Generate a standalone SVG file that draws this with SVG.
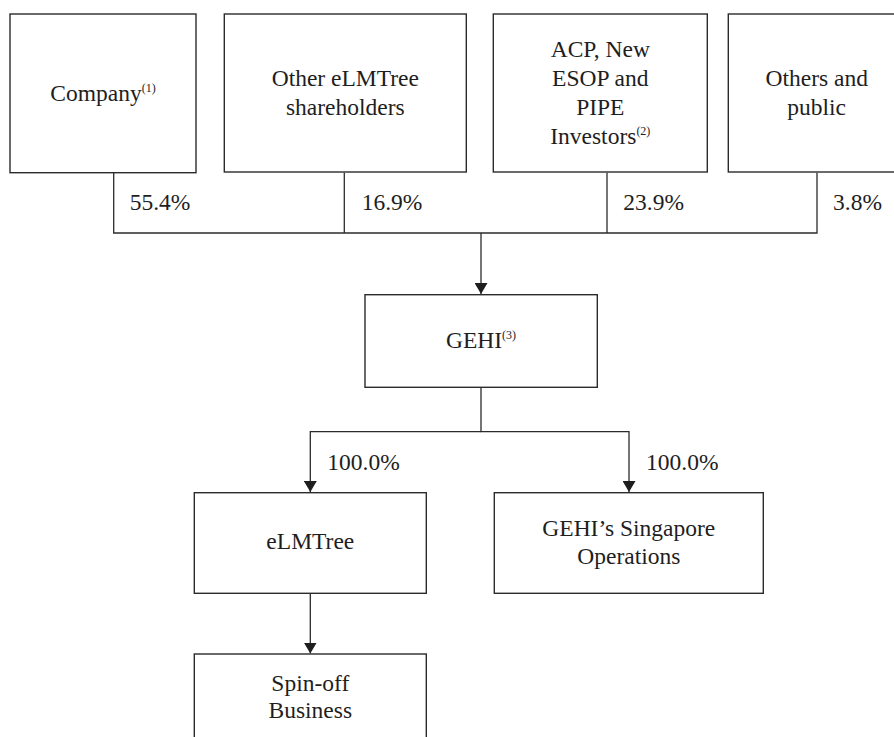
<svg xmlns="http://www.w3.org/2000/svg" width="894" height="737" viewBox="0 0 894 737">
<style>
.box{fill:#fff;stroke:#2b2b2b;stroke-width:1.4}
text{font-family:'Liberation Serif','Times New Roman',Tinos,'DejaVu Serif',serif;font-size:23.5px;fill:#1e1e1e}
.t{text-anchor:middle}
.sup{font-size:12px}
.ln{fill:none;stroke:#2b2b2b;stroke-width:1.3}
</style>
<defs>
<marker id="ad" markerUnits="userSpaceOnUse" markerWidth="11" markerHeight="13" refX="11" refY="6.5" orient="auto" viewBox="0 0 11 13">
<path d="M0,0 L11,6.5 L0,13 Z" fill="#1e1e1e"/>
</marker>
</defs>
<g id="connectors">
<path class="ln" d="M113.7,172.7 V233 H817 V172.7"/>
<path class="ln" d="M344.3,172.7 V233"/>
<path class="ln" d="M607,172.7 V233"/>
<path class="ln" d="M481,233 V294" marker-end="url(#ad)"/>
<path class="ln" d="M481,387.3 V431.7 H629 V492" marker-end="url(#ad)"/>
<path class="ln" d="M481,431.7 H310.3 V492" marker-end="url(#ad)"/>
<path class="ln" d="M310.3,593.3 V653.5" marker-end="url(#ad)"/>
<text x="129.7" y="210" font-family="Liberation Serif, serif">55.4%</text>
<text x="361.7" y="210">16.9%</text>
<text x="623.3" y="210">23.9%</text>
<text x="833" y="210">3.8%</text>
<text x="327.3" y="470">100.0%</text>
<text x="646" y="470">100.0%</text>
</g>
<g id="company">
<rect class="box" x="10" y="14" width="186" height="158.7"/>
<text class="t" x="103" y="101">Company<tspan class="sup" dy="-9">(1)</tspan></text>
</g>
<g id="other-elmtree">
<rect class="box" x="224.3" y="14" width="242" height="158"/>
<text class="t" x="345.3" y="86">Other eLMTree</text>
<text class="t" x="345.3" y="115">shareholders</text>
</g>
<g id="acp">
<rect class="box" x="493.3" y="14" width="214" height="158"/>
<text class="t" x="600.3" y="56.7">ACP, New</text>
<text class="t" x="600.3" y="86">ESOP and</text>
<text class="t" x="600.3" y="115">PIPE</text>
<text class="t" x="600.3" y="144">Investors<tspan class="sup" dy="-9">(2)</tspan></text>
</g>
<g id="others-public">
<rect class="box" x="728.3" y="14" width="180" height="158"/>
<text class="t" x="816.7" y="86">Others and</text>
<text class="t" x="816.7" y="115">public</text>
</g>
<g id="gehi">
<rect class="box" x="365" y="294.7" width="232.3" height="92.6"/>
<text class="t" x="481" y="348.3">GEHI<tspan class="sup" dy="-9">(3)</tspan></text>
</g>
<g id="elmtree">
<rect class="box" x="194.3" y="492.7" width="232" height="100.6"/>
<text class="t" x="310.3" y="549.3">eLMTree</text>
</g>
<g id="gehi-singapore">
<rect class="box" x="494.3" y="492.7" width="269" height="100.6"/>
<text class="t" x="628.8" y="536">GEHI’s Singapore</text>
<text class="t" x="628.8" y="564">Operations</text>
</g>
<g id="spinoff">
<rect class="box" x="194.3" y="654" width="232" height="100"/>
<text class="t" x="310.3" y="691">Spin-off</text>
<text class="t" x="310.3" y="717.7">Business</text>
</g>
</svg>
